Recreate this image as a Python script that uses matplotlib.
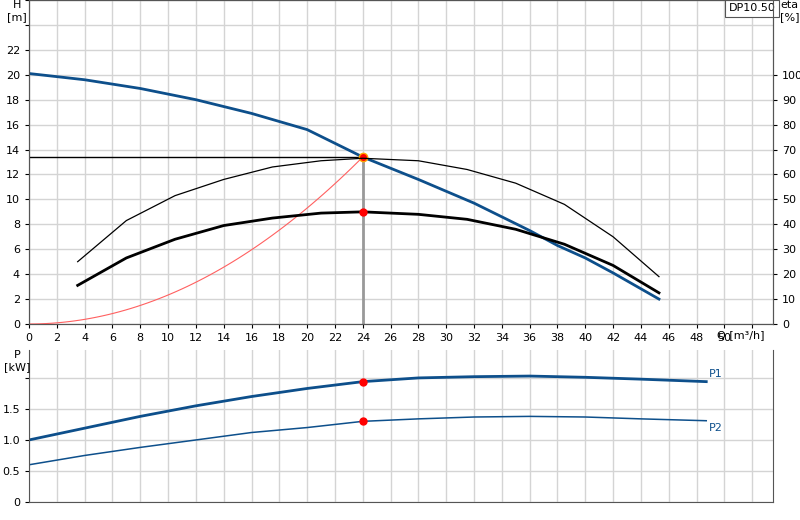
import matplotlib
matplotlib.use("Agg")
import matplotlib.pyplot as plt
import numpy as np

q_h = [0, 4, 8, 12, 16, 20, 24, 28, 32, 36, 38, 40, 42, 45.3]
h_vals = [20.1, 19.6, 18.9, 18.0, 16.9, 15.6, 13.4, 11.6, 9.7, 7.5, 6.3, 5.3, 4.1, 2.0]
q_eta = [3.5, 7, 10.5, 14, 17.5, 21, 24, 28, 31.5, 35, 38.5, 42, 45.3]
eta_thin = [25, 41.5, 51.5, 58, 63, 65.5, 66.5, 65.5, 62, 56.5, 48, 35, 19]
eta_thick = [15.5, 26.5, 34, 39.5, 42.5, 44.5, 45, 44, 42, 38, 32, 23.5, 12.5]
q_p = [0, 4, 8, 12, 16, 20, 24, 28, 32, 36, 40, 44, 48.7]
p1 = [1.0, 1.19, 1.38, 1.55, 1.70, 1.83, 1.94, 2.0, 2.02, 2.03, 2.01, 1.98, 1.94]
p2 = [0.6, 0.75, 0.88, 1.0, 1.12, 1.2, 1.3, 1.34, 1.37, 1.38, 1.37, 1.34, 1.31]
duty_q, duty_h, duty_p1, duty_p2, duty_eta = 24, 13.4, 1.94, 1.3, 45

blue = "#0d4f8b"
grid = "#d4d4d4"
fig = plt.figure(figsize=(8, 5.2), dpi=100)
ax = fig.add_axes([29/800, (520-324)/520, 744/800, 324/520])
ax2 = ax.twinx()
axp = fig.add_axes([29/800, (520-502)/520, 744/800, 152/520])

def smooth(x, y, n=200):
    xs = np.linspace(min(x), max(x), n)
    return xs, np.interp(xs, x, y)

ax.plot(q_h, h_vals, color=blue, lw=2, zorder=4)
ax.plot([0, duty_q], [duty_h, duty_h], color="black", lw=1, zorder=3)
ax.plot([duty_q, duty_q], [0, duty_h], color="#999999", lw=2, zorder=2)
qs = np.linspace(0, duty_q, 60)
ax.plot(qs, duty_h * (qs / duty_q) ** 2, color="#ff6060", lw=0.8, zorder=3)
ax.plot(duty_q, duty_h, "o", color="red", ms=6, mec="orange", zorder=6)
ax.set_xlim(0, 53.5)
ax.set_ylim(0, 26)
ax.set_yticks(range(0, 23, 2))
ax.set_xticks(range(0, 51, 2))
ax.set_xticks(range(0, 54, 2), minor=False)
ax.set_xticklabels([str(v) if v <= 50 else "" for v in range(0, 54, 2)])
ax.set_yticks(range(0, 27, 2))
ax.set_yticklabels([str(v) if v <= 22 else "" for v in range(0, 27, 2)])
ax.grid(True, color=grid, lw=1)
ax.set_axisbelow(True)
ax.text(51.2, -0.9, "Q [m³/h]", fontsize=8, va="center", ha="center")

ax2.plot(q_eta, eta_thin, color="black", lw=0.9)
ax2.plot(q_eta, eta_thick, color="black", lw=2)
ax2.plot(duty_q, duty_eta, "o", color="red", ms=5, zorder=6)
ax2.set_ylim(0, 130)
ax2.set_yticks(range(0, 101, 10))

for a in (ax, ax2, axp):
    a.tick_params(labelsize=8, length=3)
    for s in a.spines.values():
        s.set_color("#555555")
ax.text(-0.016, 1.0, "H\n[m]", transform=ax.transAxes, fontsize=8, ha="center", va="top")
ax2.text(1.01, 1.0, "eta\n[%]", transform=ax.transAxes, fontsize=8, ha="left", va="top")
ax.text(0.972, 0.99, "DP10.50", transform=ax.transAxes, fontsize=8, ha="center", va="top",
        bbox=dict(boxstyle="square,pad=0.3", fc="white", ec="#555555", lw=0.8))

axp.plot(q_p, p1, color=blue, lw=2)
axp.plot(q_p, p2, color=blue, lw=1.1)
axp.plot([duty_q, duty_q], [duty_p1, duty_p2], "o", color="red", ms=5, zorder=6)
axp.text(48.9, 1.98, "P1", color=blue, fontsize=8, va="bottom")
axp.text(48.9, 1.27, "P2", color=blue, fontsize=8, va="top")
axp.set_xlim(0, 53.5)
axp.set_ylim(0, 2.45)
axp.set_xticks(range(0, 54, 2))
axp.set_xticklabels([])
axp.tick_params(axis="x", length=0)
axp.set_yticks([0, 0.5, 1.0, 1.5, 2.0])
axp.set_yticklabels(["0", "0.5", "1.0", "1.5", ""])
axp.grid(True, color=grid, lw=1)
axp.set_axisbelow(True)
axp.spines["top"].set_visible(False)
axp.text(-0.016, 1.0, "P\n[kW]", transform=axp.transAxes, fontsize=8, ha="center", va="top")

fig.savefig("out.png", dpi=100)
